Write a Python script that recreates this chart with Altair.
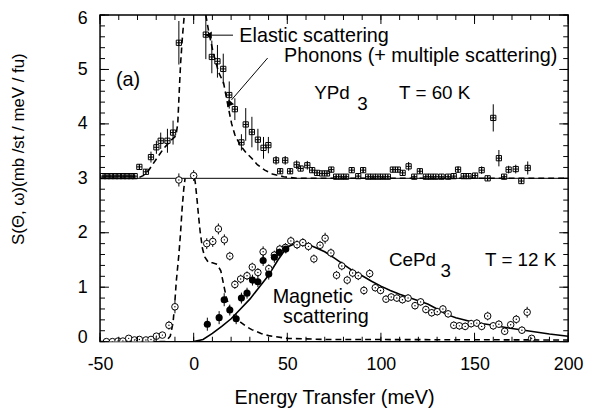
import altair as alt
import pandas as pd

# ---------------- values ----------------
# YPd3, T = 60 K (plotted on the +3 offset panel)
ypd3_E = [-48.4, -46.3, -44.2, -42.0, -39.9, -37.7, -35.6, -33.5, -31.5, -29.0, -25.5, -22.8,
          -19.9, -17.6, -14.0, -11.0, -7.9, 6.5, 9.7, 12.7, 15.8, 19.0, 22.0, 25.5, 27.8, 31.1,
          34.3, 37.3, 39.9, 44.0, 46.2, 48.9, 51.5, 55.0, 57.1, 60.7, 63.3, 65.9, 68.6, 71.2,
          73.5, 76.1, 78.8, 81.4, 84.4, 87.9, 90.5, 93.2, 95.8, 98.4, 101.0, 103.7, 106.4, 109.0,
          111.6, 114.8, 117.8, 120.8, 124.0, 126.6, 129.3, 132.4, 135.9, 138.9, 141.2, 144.2,
          146.8, 150.3, 153.8, 157.0, 160.0, 163.0, 165.8, 168.2, 172.0, 175.0, 178.4]
ypd3_S = [3.04, 3.04, 3.04, 3.04, 3.04, 3.04, 3.04, 3.04, 3.04, 3.21, 3.12, 3.39,
          3.57, 3.69, 3.69, 3.84, 5.49, 5.64, 5.23, 5.15, 5.01, 4.53, 4.27, 3.66, 3.99, 3.85,
          3.71, 3.56, 3.61, 3.33, 3.13, 3.33, 3.13, 3.25, 3.18, 3.24, 3.15, 3.10, 3.09, 3.09,
          3.16, 3.03, 3.03, 3.03, 3.15, 3.04, 3.15, 3.03, 3.03, 3.03, 3.03, 3.03, 3.16, 3.16,
          3.10, 3.22, 3.03, 3.13, 3.03, 3.03, 3.03, 3.03, 3.03, 3.04, 3.16, 3.04,
          3.04, 3.05, 3.15, 3.00, 4.11, 3.37, 3.03, 3.16, 3.17, 2.95, 3.19]
ypd3_err = [0.02, 0.02, 0.02, 0.02, 0.02, 0.02, 0.02, 0.02, 0.02, 0.05, 0.05, 0.10,
            0.12, 0.15, 0.22, 0.22, 0.40, 0.45, 0.30, 0.30, 0.28, 0.25, 0.20, 0.15, 0.30, 0.28,
            0.20, 0.20, 0.15, 0.08, 0.05, 0.08, 0.05, 0.08, 0.05, 0.08, 0.05, 0.04, 0.04, 0.04,
            0.05, 0.03, 0.03, 0.03, 0.05, 0.03, 0.05, 0.03, 0.03, 0.03, 0.03, 0.03, 0.05, 0.05,
            0.04, 0.08, 0.03, 0.05, 0.03, 0.03, 0.03, 0.03, 0.03, 0.03, 0.06, 0.03,
            0.03, 0.04, 0.07, 0.04, 0.25, 0.15, 0.03, 0.07, 0.08, 0.05, 0.12]

# CePd3, T = 12 K, open circles
cepd3_E = [-46.6, -43.4, -40.4, -37.8, -34.7, -31.6, -29.0, -25.5, -22.8, -19.9, -16.7, -13.2,
           -10.0, -7.9, 0.0, 7.0, 10.2, 13.2, 16.4, 19.3, 22.0, 25.1, 28.5, 31.3, 34.3, 37.1,
           40.1, 43.1, 46.0, 49.0, 51.9, 55.2, 58.3, 61.3, 64.2, 67.5, 70.2, 73.3, 76.3, 79.1,
           82.0, 84.9, 87.9, 90.9, 94.0, 97.0, 99.8, 102.7, 105.5, 108.5, 111.5, 114.5, 118.2,
           121.2, 124.0, 127.1, 130.1, 133.1, 135.9, 138.9, 141.9, 145.0, 148.2, 151.2, 153.8,
           157.0, 160.0, 163.0, 166.1, 169.3, 172.3, 175.3, 178.1, 180.5]
cepd3_S = [0.00, 0.00, 0.01, 0.01, 0.06, 0.03, 0.04, 0.03, 0.04, 0.10, 0.12, 0.30,
           0.64, 2.97, 3.05, 1.80, 1.84, 2.07, 1.87, 1.57, 1.05, 1.15, 1.21, 1.37, 1.27, 1.65,
           1.34, 1.59, 1.70, 1.73, 1.85, 1.78, 1.82, 1.75, 1.52, 1.77, 1.90, 1.63, 1.22, 1.39,
           1.13, 1.26, 1.21, 0.94, 1.25, 0.99, 0.94, 0.78, 0.82, 0.80, 0.77, 0.80, 0.66,
           0.73, 0.59, 0.53, 0.55, 0.60, 0.51, 0.30, 0.29, 0.28, 0.33, 0.34, 0.28,
           0.47, 0.29, 0.32, 0.19, 0.31, 0.41, 0.21, 0.54, 0.06]
cepd3_err = [0.02, 0.02, 0.02, 0.02, 0.03, 0.03, 0.03, 0.03, 0.03, 0.04, 0.05, 0.08,
             0.12, 0.12, 0.10, 0.10, 0.10, 0.10, 0.10, 0.08, 0.08, 0.08, 0.08, 0.08, 0.08, 0.10,
             0.08, 0.08, 0.08, 0.08, 0.08, 0.08, 0.08, 0.08, 0.08, 0.08, 0.10, 0.08, 0.08, 0.08,
             0.08, 0.08, 0.08, 0.08, 0.08, 0.07, 0.07, 0.07, 0.07, 0.07, 0.07, 0.07, 0.07,
             0.07, 0.07, 0.07, 0.07, 0.07, 0.07, 0.07, 0.07, 0.07, 0.07, 0.07, 0.07,
             0.08, 0.07, 0.07, 0.07, 0.07, 0.08, 0.07, 0.10, 0.05]

# CePd3 filled circles
cepd3f_E = [7.3, 13.6, 16.3, 19.3, 22.7, 25.5, 28.5, 31.4, 34.3, 37.1, 40.1, 43.1, 45.7, 49.2]
cepd3f_S = [0.32, 0.44, 0.77, 0.58, 0.42, 0.80, 0.89, 1.13, 1.10, 1.49, 1.24, 1.55, 1.64, 1.70]
cepd3f_err = [0.12, 0.12, 0.12, 0.10, 0.10, 0.10, 0.10, 0.10, 0.10, 0.10, 0.10, 0.10, 0.08, 0.08]

# Magnetic scattering fit (solid line)
mag_E = [0, 5, 10, 15, 20, 25, 30, 35, 40, 45, 50, 55, 60, 65, 70, 75, 80, 85, 90, 95, 100,
         105, 110, 115, 120, 125, 130, 135, 140, 150, 160, 170, 180, 190, 200]
mag_S = [0.0, 0.04, 0.15, 0.28, 0.42, 0.60, 0.78, 1.0, 1.22, 1.50, 1.74, 1.81, 1.80, 1.73, 1.65,
         1.54, 1.42, 1.30, 1.21, 1.11, 1.02, 0.94, 0.87, 0.81, 0.75, 0.69, 0.60, 0.50, 0.44,
         0.35, 0.30, 0.24, 0.19, 0.14, 0.10]

# Dashed curves: elastic + phonon (+ multiple scattering), two segments in each panel
top_dash_left_E = [-50, -30, -27, -24, -20, -16, -12, -9.5, -8.5, -7.7, -7.0, -6.0, -5.0]
top_dash_left_S = [3.0, 3.0, 3.05, 3.15, 3.35, 3.55, 3.70, 3.78, 4.0, 4.6, 5.1, 5.6, 6.0]
top_dash_right_E = [6.5, 8, 10.5, 13.3, 16, 18.5, 20.3, 22, 25, 28, 31, 34, 38, 42, 48, 55, 200]
top_dash_right_S = [6.0, 5.7, 5.3, 4.95, 4.75, 4.3, 4.0, 3.8, 3.6, 3.47, 3.37, 3.25, 3.15,
                    3.08, 3.03, 3.0, 3.0]
bot_dash_left_E = [-50, -15, -12.5, -11, -10, -9.3, -7.9, -7.0, -6.2, -5.3, -4.6]
bot_dash_left_S = [0.0, 0.0, 0.1, 0.35, 0.75, 1.1, 1.6, 2.0, 2.43, 2.8, 3.0]
bot_dash_right_E = [0.5, 0.9, 1.8, 2.6, 3.5, 4.7, 6, 8, 10, 12.5, 14.5, 16, 17.5, 19.5, 22,
                    25, 28, 31, 36, 40, 50, 70, 200]
bot_dash_right_S = [3.0, 2.91, 2.61, 2.31, 2.01, 1.71, 1.55, 1.45, 1.45, 1.42, 1.30, 1.05,
                    0.80, 0.60, 0.45, 0.36, 0.28, 0.22, 0.15, 0.11, 0.06, 0.04, 0.03]

ypd3_offset = 3

x_major = [-50, 0, 50, 100, 150, 200]
x_minor = list(range(-50, 201, 10))
y_major = [0, 1, 2, 3, 4, 5, 6]
y_minor = [i / 5 for i in range(0, 31)]

# annotation texts (data coordinates)
ann_big = pd.DataFrame({
    "E": [24.4, 48.3],
    "S": [5.62, 5.24],
    "t": ["Elastic scattering", "Phonons (+ multiple scattering)"],
})
ann_mid = pd.DataFrame({
    "E": [64.4, 87.4, 109.7, 104.3, 131.8, 155.6],
    "S": [4.56, 4.36, 4.56, 1.50, 1.30, 1.50],
    "t": ["YPd", "3", "T = 60 K", "CePd", "3", "T = 12 K"],
})
ann_center = pd.DataFrame({
    "E": [-35.0, 63.6, 70.6],
    "S": [4.81, 0.81, 0.45],
    "t": ["(a)", "Magnetic", "scattering"],
})
arrow_lines = pd.DataFrame({"E": [21.0, 39.5], "E2": [9.5, 20.2], "S": [5.63, 5.21], "S2": [5.63, 4.44]})
arrow_heads = pd.DataFrame({"E": [8.0, 19.0], "S": [5.63, 4.36], "ang": [270, 221]})

# ---------------- build chart ----------------
W, H = 473, 330
FONT = "Liberation Sans"
XS = alt.Scale(domain=[-50, 200], nice=False, zero=False)
YS = alt.Scale(domain=[0, 6], nice=False, zero=False)

sq = pd.DataFrame({"E": ypd3_E, "S": ypd3_S, "err": ypd3_err})
oc = pd.DataFrame({"E": cepd3_E, "S": cepd3_S, "err": cepd3_err})
fc = pd.DataFrame({"E": cepd3f_E, "S": cepd3f_S, "err": cepd3f_err})
mag = pd.DataFrame({"E": mag_E, "S": mag_S})


def seg(name, E, S):
    return pd.DataFrame({"E": E, "S": S, "seg": name, "i": range(len(E))})


dash = pd.concat([
    seg("tl", top_dash_left_E, top_dash_left_S),
    seg("tr", top_dash_right_E, top_dash_right_S),
    seg("bl", bot_dash_left_E, bot_dash_left_S),
    seg("br", bot_dash_right_E, bot_dash_right_S),
])


def X(field="E"):
    return alt.X(f"{field}:Q", scale=XS, axis=None)


def Y(field="S"):
    return alt.Y(f"{field}:Q", scale=YS, axis=None)


def errbars(df):
    return alt.Chart(df).transform_calculate(
        lo="datum.S - datum.err", hi="datum.S + datum.err"
    ).mark_rule(color="black", strokeWidth=1, clip=True).encode(
        x=X(), y=Y("lo"), y2="hi:Q")


baseline = alt.Chart(pd.DataFrame({"S": [ypd3_offset]})).mark_rule(
    color="black", strokeWidth=1).encode(y=Y())

dashed = alt.Chart(dash).mark_line(
    color="black", strokeWidth=1.6, strokeDash=[6, 4], clip=True).encode(
    x=X(), y=Y(), detail="seg:N", order="i:Q")

solid = alt.Chart(mag).mark_line(color="black", strokeWidth=1.6, clip=True).encode(x=X(), y=Y())

square_path = "M-1,-1H1V1H-1Z M0,-1V1 M-1,0H1"
squares = alt.Chart(sq).mark_point(
    shape=square_path, size=28, filled=False, color="black", strokeWidth=1, opacity=1,
    clip=True).encode(x=X(), y=Y())

open_c = alt.Chart(oc).mark_point(
    shape="circle", size=44, filled=True, fill="white", stroke="black", strokeWidth=1,
    opacity=1, fillOpacity=1, clip=True).encode(x=X(), y=Y())
dots = alt.Chart(oc).mark_point(
    shape="circle", size=2, filled=True, color="black", opacity=1, clip=True).encode(x=X(), y=Y())
filled_c = alt.Chart(fc).mark_point(
    shape="circle", size=52, filled=True, color="black", opacity=1, clip=True).encode(x=X(), y=Y())

txt_big = alt.Chart(ann_big).mark_text(
    align="left", baseline="middle", font=FONT, fontSize=20, color="black").encode(
    x=X(), y=Y(), text="t:N")
txt_mid = alt.Chart(ann_mid).mark_text(
    align="left", baseline="middle", font=FONT, fontSize=19, color="black").encode(
    x=X(), y=Y(), text="t:N")
txt_center = alt.Chart(ann_center).mark_text(
    align="center", baseline="middle", font=FONT, fontSize=20, color="black").encode(
    x=X(), y=Y(), text="t:N")
arr_l = alt.Chart(arrow_lines).mark_rule(color="black", strokeWidth=1).encode(
    x=X(), x2="E2:Q", y=Y(), y2="S2:Q")
arr_h = alt.Chart(arrow_heads).mark_point(
    shape="triangle-up", size=55, filled=True, color="black", opacity=1).encode(
    x=X(), y=Y(), angle=alt.Angle("ang:Q", scale=None))

# inward tick marks on all four sides (tick values go through the scales)
xt_minor = pd.DataFrame({"v": x_minor})
xt_major = pd.DataFrame({"v": x_major})
yt_minor = pd.DataFrame({"v": y_minor})
yt_major = pd.DataFrame({"v": y_major})


def xticks(df, size):
    bottom = alt.Chart(df).mark_tick(orient="vertical", size=size, thickness=1, color="black",
                                     opacity=1).encode(x=X("v"), y=alt.value(H - size / 2))
    top = alt.Chart(df).mark_tick(orient="vertical", size=size, thickness=1, color="black",
                                  opacity=1).encode(x=X("v"), y=alt.value(size / 2))
    return [bottom, top]


def yticks(df, size):
    left = alt.Chart(df).mark_tick(orient="horizontal", size=size, thickness=1, color="black",
                                   opacity=1).encode(y=Y("v"), x=alt.value(size / 2))
    right = alt.Chart(df).mark_tick(orient="horizontal", size=size, thickness=1, color="black",
                                    opacity=1).encode(y=Y("v"), x=alt.value(W - size / 2))
    return [left, right]


tick_layers = xticks(xt_minor, 5) + xticks(xt_major, 9) + yticks(yt_minor, 5) + yticks(yt_major, 9)

label_axes = alt.Chart(sq).mark_point(opacity=0).encode(
    x=alt.X("E:Q", scale=XS, title="Energy Transfer  (meV)", axis=alt.Axis(
        orient="bottom", values=x_major, ticks=False, tickSize=0, domain=False, grid=False,
        labelFont=FONT, labelFontSize=18, labelColor="black", labelPadding=14,
        labelFlush=False, labelExpr="'' + datum.value",
        titleFont=FONT, titleFontSize=20, titleFontWeight="normal", titleColor="black",
        titlePadding=15)),
    y=alt.Y("S:Q", scale=YS, title="S(\u0398, \u03c9)(mb /st / meV / fu)", axis=alt.Axis(
        orient="left", values=y_major, ticks=False, tickSize=0, domain=False, grid=False,
        labelFont=FONT, labelFontSize=18, labelColor="black", labelPadding=13,
        labelFlush=True, labelFlushOffset=5, labelExpr="'' + datum.value",
        titleFont=FONT, titleFontSize=17, titleFontWeight="normal", titleColor="black",
        titleAngle=270, titleAlign="center", titleBaseline="middle",
        titleX=-82, titleY=135)),
)

chart = alt.layer(
    label_axes,
    baseline, dashed, solid,
    errbars(sq), errbars(oc), errbars(fc),
    squares, open_c, dots, filled_c,
    arr_l, arr_h, txt_big, txt_mid, txt_center,
    *tick_layers,
).resolve_axis(x="independent", y="independent").properties(
    width=W, height=H,
    autosize=alt.AutoSizeParams(type="none"),
    padding={"left": 93, "top": 5, "right": 16, "bottom": 67},
    background="white",
).configure_view(stroke="black", strokeWidth=1.5)

chart.save("out.html", embed_options={"renderer": "svg", "actions": False})
